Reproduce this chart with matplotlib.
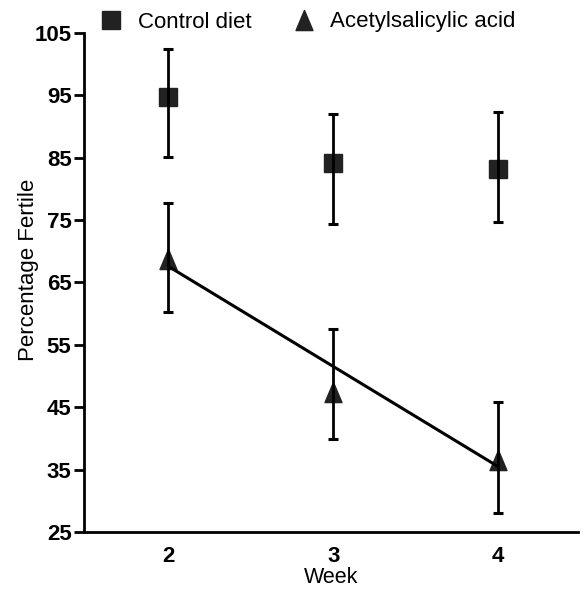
import matplotlib
matplotlib.use("Agg")
import matplotlib.pyplot as plt
from matplotlib.path import Path
from matplotlib.lines import Line2D

weeks = [2, 3, 4]
control_mean = [94.8, 84.1, 83.2]
control_upper = [102.4, 92.0, 92.3]
control_lower = [85.2, 74.3, 74.7]
asa_mean = [68.7, 47.5, 36.6]
asa_upper = [77.8, 57.5, 45.9]
asa_lower = [60.3, 39.9, 28.1]
fit_x = [2, 4]
fit_y = [67.6, 35.5]
yticks = [25, 35, 45, 55, 65, 75, 85, 95, 105]
xticks = [2, 3, 4]

plt.rcParams['font.family'] = ['Liberation Sans', 'DejaVu Sans']

fig = plt.figure(figsize=(5.88, 5.90), dpi=100)
ax = fig.add_axes([84/588, 1-532/590, (578-84)/588, (532-33)/590])

tri = Path([(-0.42, -0.5), (0.42, -0.5), (0.0, 0.5), (-0.42, -0.5)],
           [Path.MOVETO, Path.LINETO, Path.LINETO, Path.CLOSEPOLY])
mcol = '#222222'

ax.plot(weeks, control_mean, linestyle='none', marker='s', markersize=12.5,
        color=mcol, markeredgecolor=mcol, zorder=2)
ax.plot(weeks, asa_mean, linestyle='none', marker=tri, markersize=14.5,
        color=mcol, markeredgecolor=mcol, zorder=2)

c_err = [[m - l for m, l in zip(control_mean, control_lower)],
         [u - m for m, u in zip(control_mean, control_upper)]]
a_err = [[m - l for m, l in zip(asa_mean, asa_lower)],
         [u - m for m, u in zip(asa_mean, asa_upper)]]
ax.errorbar(weeks, control_mean, yerr=c_err, fmt='none', ecolor='black',
            elinewidth=2.0, capsize=3.4, capthick=2.2, zorder=3)
ax.errorbar(weeks, asa_mean, yerr=a_err, fmt='none', ecolor='black',
            elinewidth=2.0, capsize=3.4, capthick=2.2, zorder=3)

ax.plot(fit_x, fit_y, color='black', linewidth=2.2, zorder=4,
        solid_capstyle='butt')

ax.set_xlim(1.489, 4.485)
ax.set_ylim(25, 105)
ax.set_yticks(yticks)
ax.set_yticklabels([str(t) for t in yticks], fontsize=16, fontweight='bold')
ax.set_xticks(xticks)
ax.set_xticklabels([str(t) for t in xticks], fontsize=16, fontweight='bold')
ax.tick_params(axis='y', length=7, width=2, pad=2)
ax.tick_params(axis='x', length=0, pad=10)

for s in ['top', 'right']:
    ax.spines[s].set_visible(False)
for s in ['left', 'bottom']:
    ax.spines[s].set_linewidth(2)

ax.set_ylabel('Percentage Fertile', fontsize=16)
ax.yaxis.set_label_coords(-0.092, 0.525)
ax.set_xlabel('Week', fontsize=15.5, labelpad=0)

handles = [Line2D([], [], linestyle='none', marker='s', markersize=12.5, color=mcol),
           Line2D([], [], linestyle='none', marker=tri, markersize=14.5, color=mcol)]
fig.legend(handles, ['Control diet', 'Acetylsalicylic acid'], loc='center left',
           bbox_to_anchor=(100/588, 1-22/590), ncol=2, frameon=False,
           fontsize=16, handlelength=1.0, handletextpad=0.7, columnspacing=1.85,
           borderpad=0, borderaxespad=0)

fig.savefig('out.png', dpi=100)
